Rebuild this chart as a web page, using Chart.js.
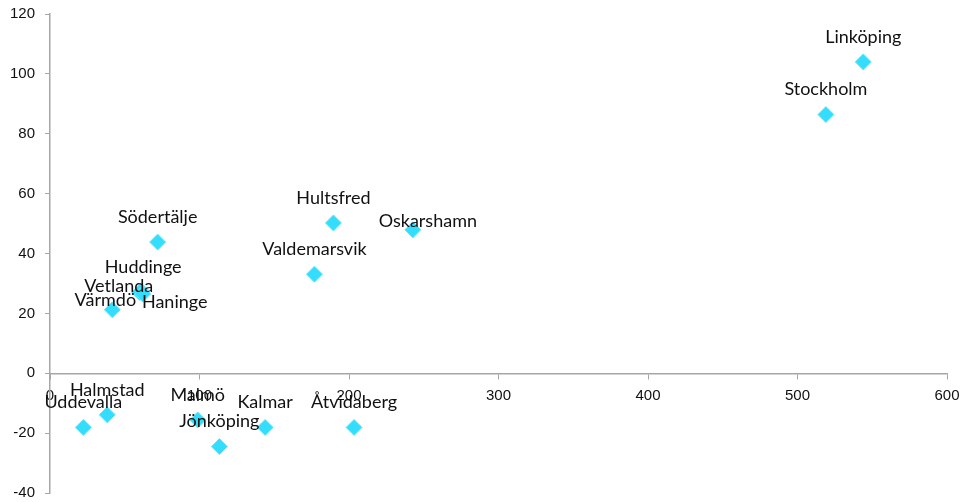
<!DOCTYPE html>
<html>
<head>
<meta charset="utf-8">
<script src="https://cdn.jsdelivr.net/npm/chart.js@4"></script>
<style>
  html, body { margin: 0; padding: 0; background: #fff; }
  #wrap { width: 962px; height: 502px; }
</style>
</head>
<body>
<div id="wrap"><canvas id="c" width="962" height="502"></canvas></div>
<script>
const cities = ["Linköping", "Stockholm", "Södertälje", "Hultsfred", "Oskarshamn", "Valdemarsvik",
  "Huddinge", "Vetlanda", "Haninge", "Värmdö", "Halmstad", "Uddevalla", "Malmö", "Jönköping",
  "Kalmar", "Åtvidaberg"];
const xValues = [544, 519, 72, 189.6, 242.7, 176.9, 61, 60, 62, 41.7, 38.3, 22.3, 98.8, 113.3, 143.9, 203.4];
const yValues = [104, 86.4, 43.8, 50.2, 47.9, 33.1, 27.5, 27, 26.5, 21.2, -13.9, -18.1, -15.6, -24.5, -18.1, -18.1];
const xTicks = [0, 100, 200, 300, 400, 500, 600];
const yTicks = [-40, -20, 0, 20, 40, 60, 80, 100, 120];

const points = cities.map((c, i) => ({ x: xValues[i], y: yValues[i], label: c }));

const labelPlugin = {
  id: 'pointLabels',
  afterDatasetsDraw(chart, args, opts) {
    const ctx = chart.ctx;
    const meta = chart.getDatasetMeta(0);
    ctx.save();
    ctx.font = opts.font;
    ctx.fillStyle = opts.color;
    ctx.textAlign = 'center';
    ctx.textBaseline = 'middle';
    meta.data.forEach((el, i) => {
      const name = cities[i];
      const off = opts.offsets[name] || opts.defaultOffset;
      ctx.fillText(name, el.x + off[0], el.y + off[1]);
    });
    ctx.restore();
  }
};

const axisColor = '#a6a6a6';
const tickFont = { family: "'Liberation Sans', Arial, sans-serif", size: 15 };
const zeroPad = (s) => { s.paddingTop = 0; s.paddingBottom = 0; s.paddingLeft = 0; s.paddingRight = 0; };

new Chart(document.getElementById('c'), {
  type: 'scatter',
  data: {
    datasets: [{
      data: points,
      pointStyle: 'rectRot',
      pointRadius: 8,
      pointHoverRadius: 8,
      backgroundColor: '#33ddfb',
      borderColor: '#66e6fc',
      borderWidth: 1
    }]
  },
  options: {
    responsive: false,
    animation: false,
    events: [],
    layout: { padding: { top: 14, right: 15, bottom: 9, left: 0 } },
    plugins: {
      legend: { display: false },
      tooltip: { enabled: false },
      pointLabels: {
        font: "18px Lato, 'Open Sans', sans-serif",
        color: '#111',
        defaultOffset: [0, -25],
        offsets: {
          "Oskarshamn": [15, -9],
          "Värmdö": [-7, -10],
          "Vetlanda": [-21, -6],
          "Haninge": [32, 8],
          "Huddinge": [2, -24]
        }
      }
    },
    scales: {
      x: {
        type: 'linear',
        position: { y: 0 },
        min: xTicks[0],
        max: xTicks[xTicks.length - 1],
        afterBuildTicks: (s) => { s.ticks = xTicks.map(v => ({ value: v })); },
        afterFit: (s) => { zeroPad(s); s.height = 0; },
        grid: { display: true, drawOnChartArea: false, drawTicks: true, tickLength: 5, color: axisColor },
        border: { display: true, color: axisColor, width: 1.5 },
        ticks: { color: '#111', font: tickFont, padding: 9, maxRotation: 0 }
      },
      y: {
        type: 'linear',
        position: 'left',
        min: yTicks[0],
        max: yTicks[yTicks.length - 1],
        afterBuildTicks: (s) => { s.ticks = yTicks.map(v => ({ value: v })); },
        afterFit: (s) => { zeroPad(s); s.width = 50; },
        grid: { display: true, drawOnChartArea: false, drawTicks: true, tickLength: 5, color: axisColor },
        border: { display: true, color: axisColor, width: 1.5 },
        ticks: { color: '#111', font: tickFont, padding: 10 }
      }
    }
  },
  plugins: [labelPlugin]
});
</script>
</body>
</html>
